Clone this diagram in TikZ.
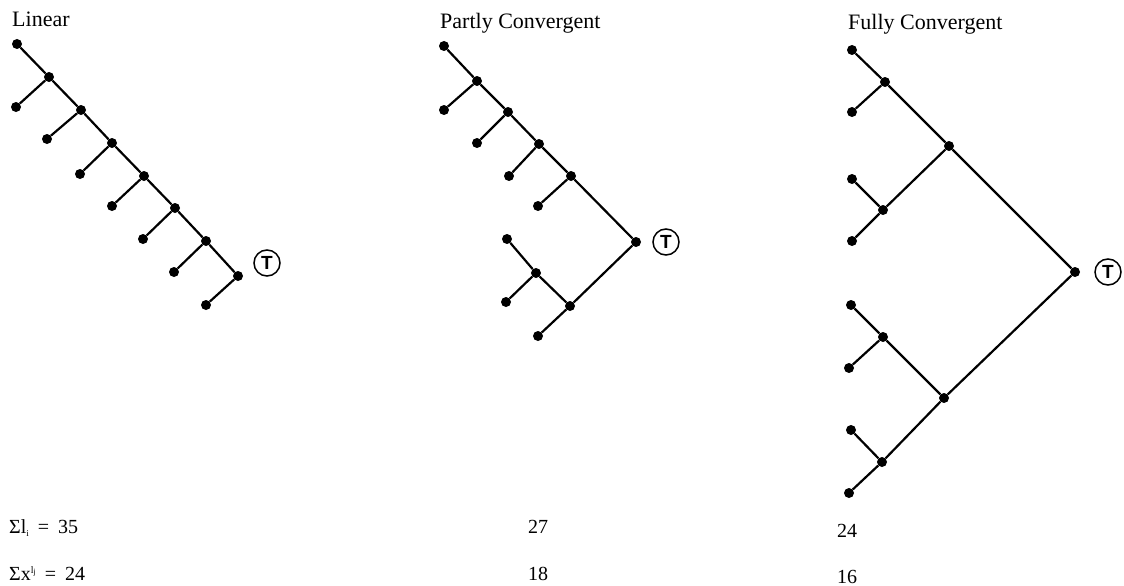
\documentclass[tikz,border=0pt]{standalone}
\usepackage{fontspec}
\setmainfont{Liberation Serif}
\newfontfamily\tfont{Liberation Sans}
\begin{document}
\begin{tikzpicture}[x=1pt,y=-1pt,
  dot/.style={circle,fill=black,inner sep=0pt,minimum size=10pt},
  tnode/.style={circle,draw=black,line width=1.5pt,inner sep=0pt,minimum size=26pt,font=\tfont\bfseries\fontsize{19}{19}\selectfont},
  edge/.style={line width=2.2pt,black},
  title/.style={anchor=base west,inner sep=0pt,font=\fontsize{22}{24}\selectfont},
  num/.style={anchor=base west,inner sep=0pt,font=\fontsize{20}{22}\selectfont}]
\useasboundingbox (0,0) rectangle (1124,586);
% titles
\node[title] (tl) at (12,27) {Linear};
\node[title] (tp) at (440,29) {Partly Convergent};
\node[title] (tf) at (848,30) {Fully Convergent};
% ---------------- Linear
\node[dot] (l0) at (17,44) {};
\node[dot] (n1) at (49,77) {};
\node[dot] (n2) at (81,110) {};
\node[dot] (n3) at (112,143) {};
\node[dot] (n4) at (144,176) {};
\node[dot] (n5) at (175,208) {};
\node[dot] (n6) at (206,241) {};
\node[dot] (n7) at (238,276) {};
\node[dot] (l1) at (16,107) {};
\node[dot] (l2) at (47,139) {};
\node[dot] (l3) at (80,174) {};
\node[dot] (l4) at (112,206) {};
\node[dot] (l5) at (143,239) {};
\node[dot] (l6) at (174,272) {};
\node[dot] (l7) at (206,305) {};
\node[tnode] (T1) at (267,263) {T};
\draw[edge] (l0) -- (n1) -- (n2) -- (n3) -- (n4) -- (n5) -- (n6) -- (n7);
\draw[edge] (l1) -- (n1);
\draw[edge] (l2) -- (n2);
\draw[edge] (l3) -- (n3);
\draw[edge] (l4) -- (n4);
\draw[edge] (l5) -- (n5);
\draw[edge] (l6) -- (n6);
\draw[edge] (l7) -- (n7);
% ---------------- Partly convergent
\node[dot] (p0) at (444,46) {};
\node[dot] (pn1) at (477,81) {};
\node[dot] (pn2) at (508,112) {};
\node[dot] (pn3) at (539,144) {};
\node[dot] (pn4) at (571,176) {};
\node[dot] (pr) at (636,242) {};
\node[dot] (p1) at (444,110) {};
\node[dot] (p2) at (477,143) {};
\node[dot] (p3) at (509,176) {};
\node[dot] (p4) at (538,206) {};
\node[dot] (q0) at (507,239) {};
\node[dot] (qn1) at (536,273) {};
\node[dot] (q1) at (506,302) {};
\node[dot] (qn2) at (570,306) {};
\node[dot] (q2) at (538,336) {};
\node[tnode] (T2) at (666,242) {T};
\draw[edge] (p0) -- (pn1) -- (pn2) -- (pn3) -- (pn4) -- (pr);
\draw[edge] (p1) -- (pn1);
\draw[edge] (p2) -- (pn2);
\draw[edge] (p3) -- (pn3);
\draw[edge] (p4) -- (pn4);
\draw[edge] (q0) -- (qn1) -- (qn2) -- (pr);
\draw[edge] (q1) -- (qn1);
\draw[edge] (q2) -- (qn2);
% ---------------- Fully convergent
\node[dot] (f1) at (852,50) {};
\node[dot] (fa) at (885,82) {};
\node[dot] (f2) at (852,112) {};
\node[dot] (fb) at (949,146) {};
\node[dot] (f3) at (852,179) {};
\node[dot] (fc) at (883,210) {};
\node[dot] (f4) at (852,241) {};
\node[dot] (fr) at (1075,272) {};
\node[dot] (f5) at (851,305) {};
\node[dot] (fd) at (883,337) {};
\node[dot] (f6) at (849,368) {};
\node[dot] (fe) at (944,398) {};
\node[dot] (f7) at (851,430) {};
\node[dot] (ff) at (882,462) {};
\node[dot] (f8) at (849,493) {};
\node[tnode] (T3) at (1108,272) {T};
\draw[edge] (f1) -- (fa) -- (fb) -- (fr);
\draw[edge] (f2) -- (fa);
\draw[edge] (f3) -- (fc) -- (fb);
\draw[edge] (f4) -- (fc);
\draw[edge] (f5) -- (fd) -- (fe) -- (fr);
\draw[edge] (f6) -- (fd);
\draw[edge] (f7) -- (ff) -- (fe);
\draw[edge] (f8) -- (ff);
% ---------------- sums
\node[num] (s1) at (9,533) {Σl\raisebox{-3pt}{\fontsize{9}{9}\selectfont i}\hspace{9pt}=\hspace{9pt}35};
\node[num] (s2) at (9,580) {Σx\raisebox{7pt}{\fontsize{10}{10}\selectfont l\raisebox{-1.5pt}{\fontsize{8}{8}\selectfont j}}\hspace{9pt}=\hspace{9pt}24};
\node[num] (s3) at (528,533) {27};
\node[num] (s4) at (528,580) {18};
\node[num] (s5) at (837,537) {24};
\node[num] (s6) at (837,583) {16};
\end{tikzpicture}
\end{document}
